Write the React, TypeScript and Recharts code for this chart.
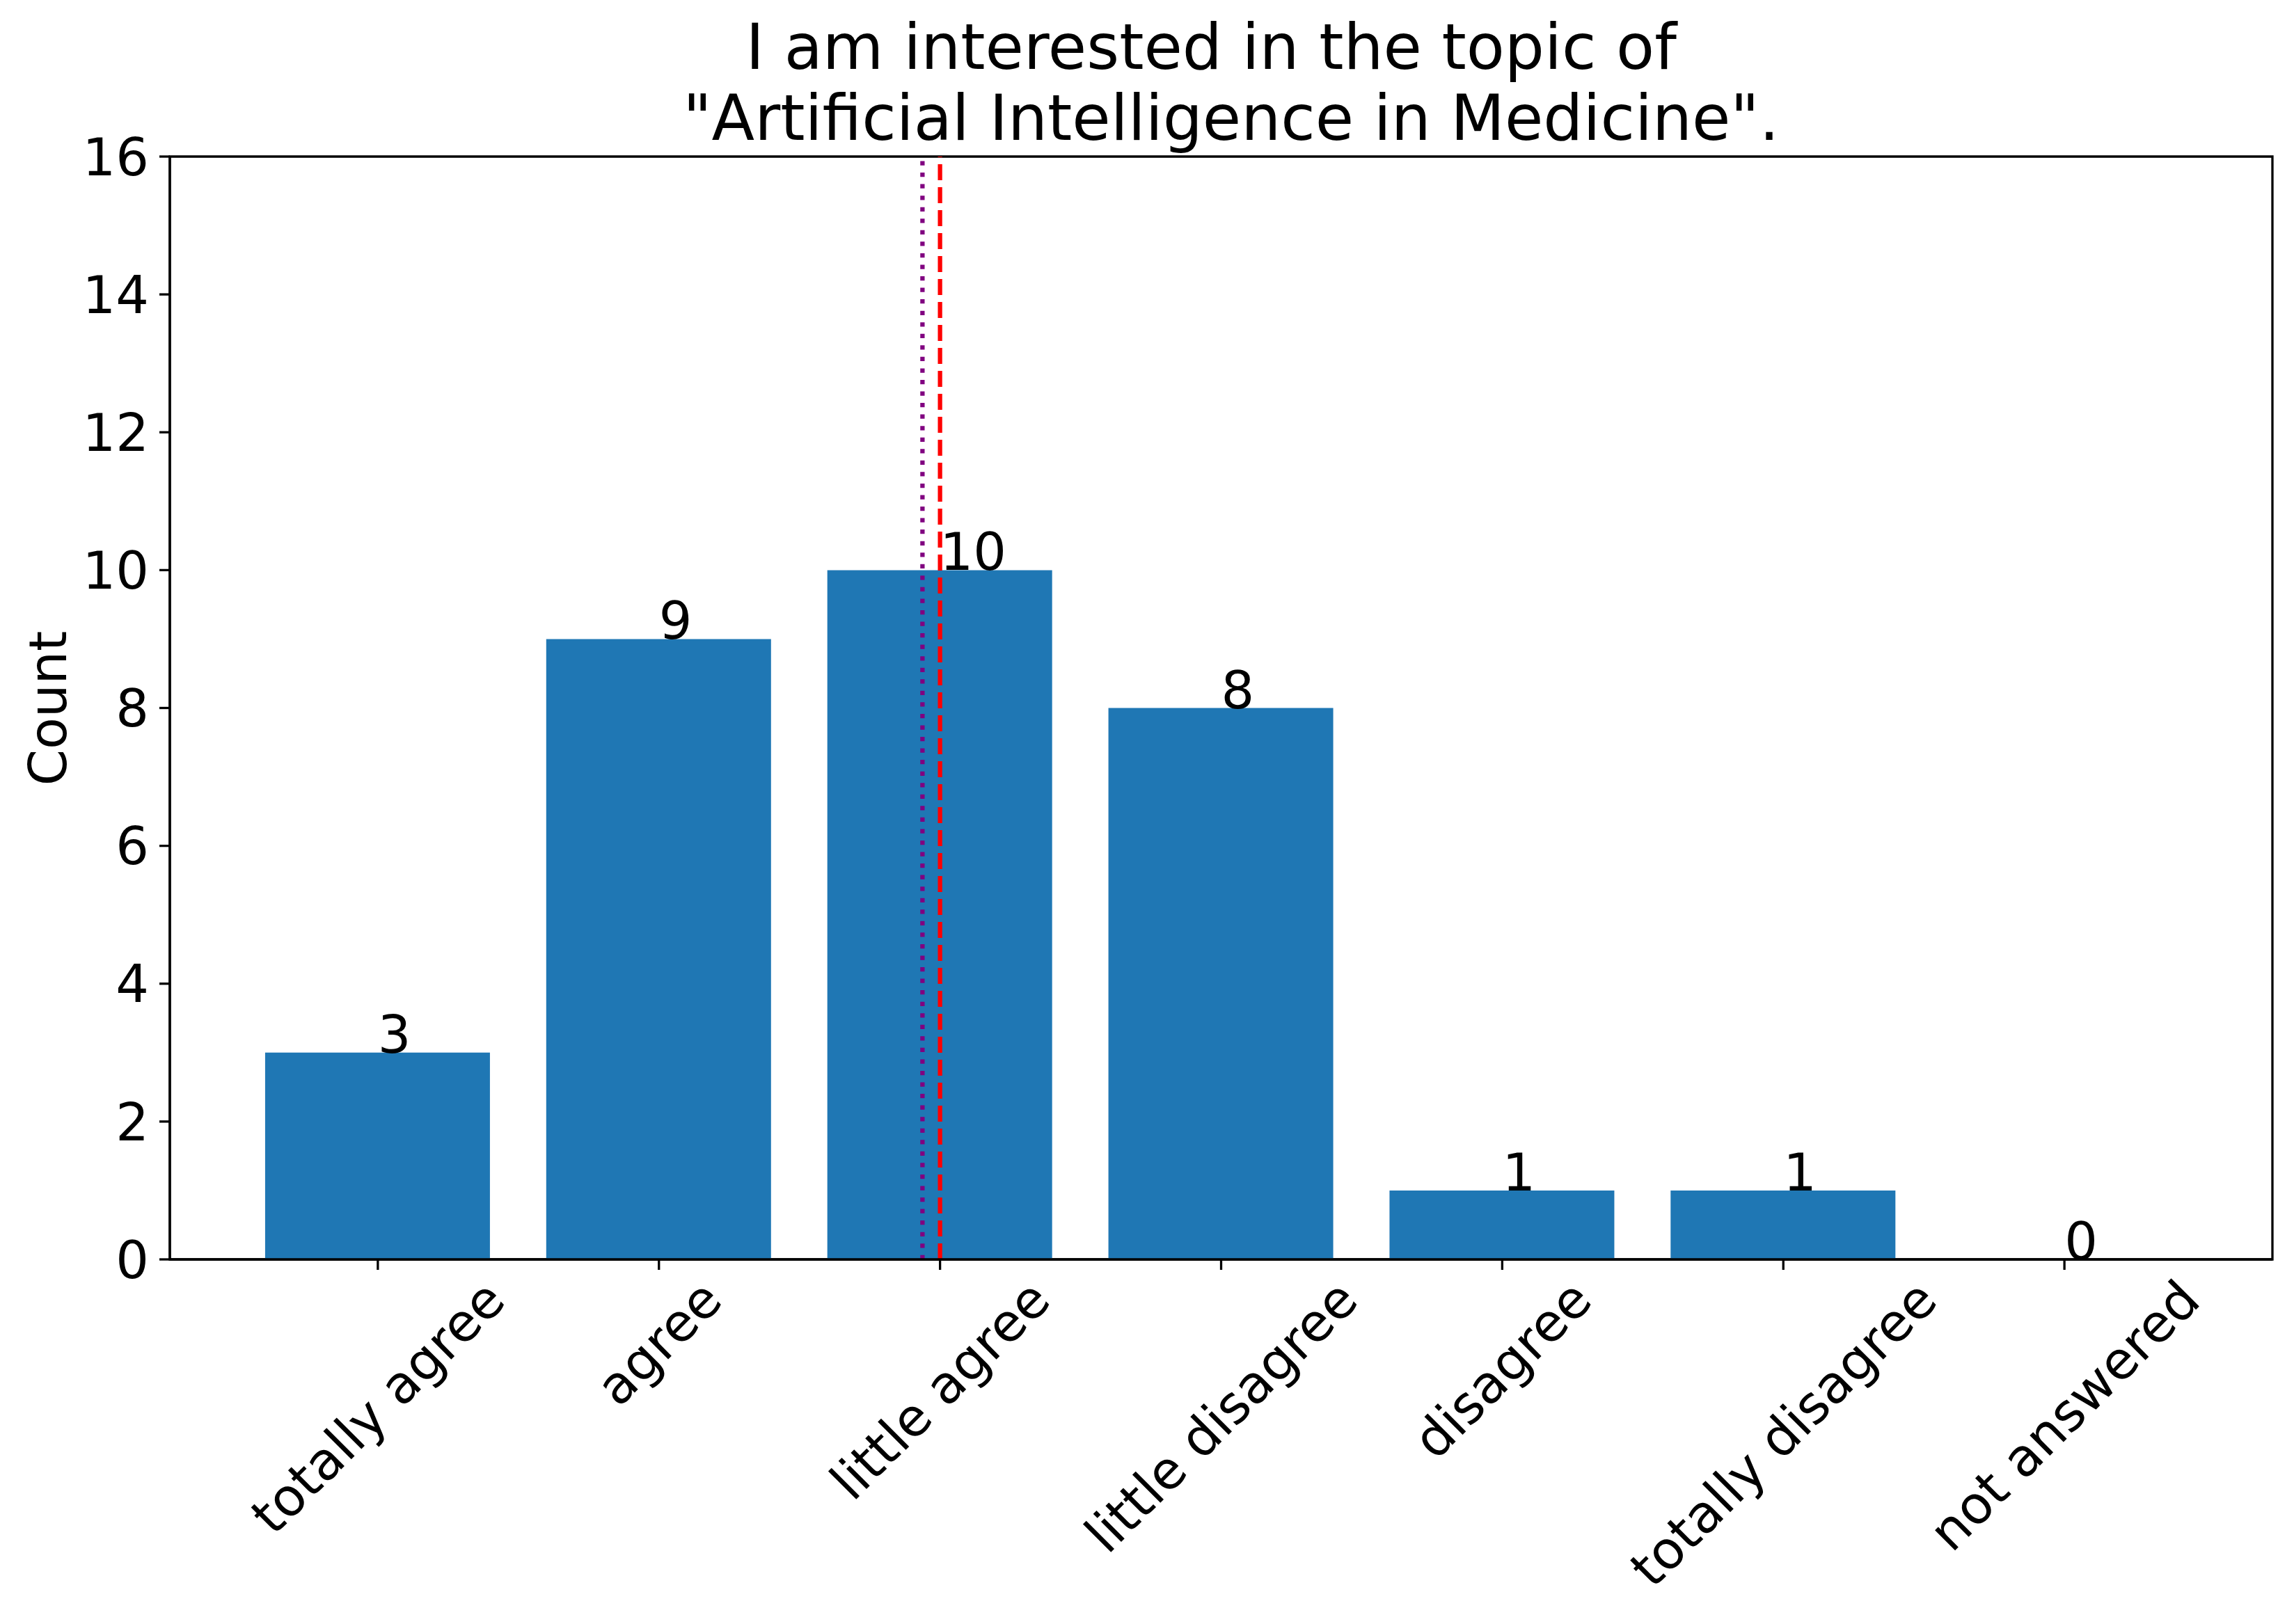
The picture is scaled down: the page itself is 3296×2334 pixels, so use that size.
import React from "react"
import { ComposedChart, Bar, Line, XAxis, YAxis, ReferenceLine, ReferenceArea, LabelList } from "recharts"

const categories = [
  "totally agree", "agree", "little agree", "little disagree",
  "disagree", "totally disagree", "not answered",
]
const counts = [3, 9, 10, 8, 1, 1, 0]
const yTicks = [0, 2, 4, 6, 8, 10, 12, 14, 16]
const meanValue = 1.9375
const medianValue = 2
const xLimits = [-0.74, 6.74]

const data = categories.map((name, i) => ({ pos: i, name, count: counts[i] }))

const FONT = "DejaVu Sans, sans-serif"
const LW = 3.3

// rough DejaVu Sans advance widths (em/1000) to size the rotated labels
const charW: Record<string, number> = {
  a: 613, d: 635, e: 615, g: 635, i: 278, l: 278, n: 634, o: 612,
  r: 411, s: 521, t: 392, w: 818, y: 592, " ": 318,
}
const textWidth = (s: string, size: number) =>
  s.split("").reduce((acc, c) => acc + (charW[c] ?? 600), 0) * size / 1000

function XTick(props: any) {
  const { x, y, payload } = props
  const label = categories[payload.value]
  if (label === undefined) return null
  const size = 75
  const w = textWidth(label, size)
  const cy = y + 2 + (w + size) / (2 * Math.SQRT2)
  return (
    <text x={x} y={cy} textAnchor="middle" dominantBaseline="central"
      fontSize={size} fontFamily={FONT} fill="#000"
      transform={`rotate(-45 ${x} ${cy})`}>
      {label}
    </text>
  )
}

// value text starts at the bar centre, baseline on the bar top (like plt.text)
function ValueLabel(props: any) {
  const { x, y, value } = props
  return (
    <text x={x} y={y} textAnchor="start" fontSize={75}
      fontFamily={FONT} fill="#000">
      {String(value)}
    </text>
  )
}

export default function App() {
  return (
    <div style={{ position: "absolute", left: 0, top: 0, width: 3296, height: 2334, background: "#fff" }}>
      <svg width={3296} height={260} style={{ position: "absolute", left: 0, top: 0 }}>
        <text x={1754.5} y={99} textAnchor="middle" fontSize={90} fontFamily={FONT}
          fill="#000" style={{ whiteSpace: "pre" }}>
          {"I am interested in the topic of "}
        </text>
        <text x={1754.5} y={201} textAnchor="middle" fontSize={90} fontFamily={FONT}
          fill="#000" style={{ whiteSpace: "pre" }}>
          {" \"Artificial Intelligence in Medicine\"."}
        </text>
      </svg>
      <svg width={200} height={2334} style={{ position: "absolute", left: 0, top: 0 }}>
        <text x={95} y={1018} textAnchor="middle" fontSize={75} fontFamily={FONT}
          fill="#000" transform="rotate(-90 95 1018)">
          Count
        </text>
      </svg>
      <div style={{ position: "absolute", left: 0, top: 0 }}>
        <ComposedChart width={3296} height={2334} data={data}
          margin={{ top: 225, right: 31, left: 0, bottom: 124 }}>
          <XAxis dataKey="pos" type="number" domain={xLimits} ticks={[0, 1, 2, 3, 4, 5, 6]}
            allowDataOverflow height={400} interval={0}
            axisLine={{ stroke: "#000", strokeWidth: LW }}
            tickLine={{ stroke: "#000", strokeWidth: LW }}
            tickSize={15} tickMargin={0} tick={<XTick />} />
          <YAxis type="number" domain={[0, 16]} ticks={yTicks} width={244}
            allowDataOverflow interval={0}
            axisLine={{ stroke: "#000", strokeWidth: LW }}
            tickLine={{ stroke: "#000", strokeWidth: LW }}
            tickSize={15} tickMargin={15}
            tick={{ fontSize: 75, fontFamily: FONT, fill: "#000" }} />
          <Bar dataKey="count" fill="#1f77b4" barSize={323} isAnimationActive={false} />
          <Line dataKey="count" stroke="none" dot={false} activeDot={false}
            isAnimationActive={false} legendType="none">
            <LabelList dataKey="count" content={<ValueLabel />} />
          </Line>
          <ReferenceLine x={meanValue} stroke="#800080" strokeWidth={6.25}
            strokeDasharray="6.25 10.3" />
          <ReferenceLine x={medianValue} stroke="#ff0000" strokeWidth={6.25}
            strokeDasharray="23 10" />
          <ReferenceArea x1={xLimits[0]} x2={xLimits[1]} y1={0} y2={16}
            fill="none" stroke="#000" strokeWidth={LW} />
        </ComposedChart>
      </div>
    </div>
  )
}
